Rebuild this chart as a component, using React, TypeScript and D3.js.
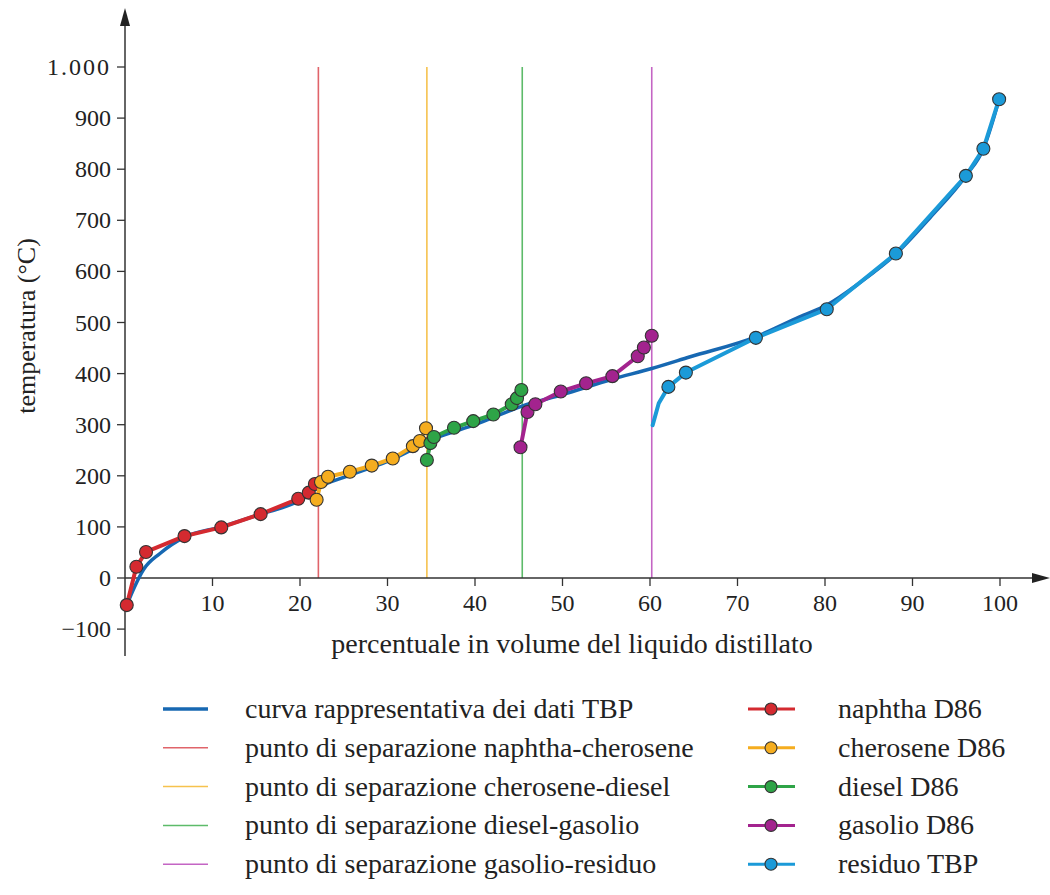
import React from 'react';
import * as d3 from 'd3';

type Pt = [number, number];

// curva TBP (linea blu scura, senza marcatori)
const tbpCurve: Pt[] = [
  [0.2, -53], [1.1, -17], [2.1, 16], [4.0, 48], [6.8, 80], [11, 100], [15.5, 125],
  [20, 152], [22.3, 179], [25, 197], [30, 228], [36, 277], [40, 300], [45.3, 336],
  [50, 359], [55.7, 389], [60.2, 410], [64.6, 433], [72.1, 472], [77.1, 511],
  [80.2, 534], [84, 578], [88.1, 634], [92, 705], [96.1, 787], [98.1, 840], [99.9, 937],
];

const naphtha: Pt[] = [
  [0.2, -53], [1.3, 22], [2.4, 51], [6.8, 82], [11.0, 99], [15.5, 125], [19.8, 155], [21.0, 167], [21.7, 184],
];
const cherosene: Pt[] = [
  [21.9, 153], [22.4, 188], [23.2, 198], [25.7, 208], [28.2, 220], [30.6, 234], [32.9, 258], [33.7, 268], [34.4, 293],
];
const diesel: Pt[] = [
  [34.5, 231], [34.9, 264], [35.3, 276], [37.6, 294], [39.8, 307], [42.1, 320], [44.2, 340], [44.8, 352], [45.3, 368],
];
const gasolio: Pt[] = [
  [45.2, 256], [46.0, 325], [46.9, 340], [49.8, 365], [52.7, 381], [55.7, 395], [58.6, 434], [59.3, 451], [60.2, 474],
];
// residuo: i primi due punti sono solo linea
const residuoLine: Pt[] = [
  [60.3, 299], [61.0, 342], [62.1, 374], [64.1, 402], [72.1, 470], [80.2, 526], [88.1, 635], [96.1, 787], [98.1, 840], [99.9, 937],
];
const residuoMarks: Pt[] = residuoLine.slice(2);

const cutPoints = [22.1, 34.5, 45.4, 60.2];
const cutColors = ['#e0646a', '#f6c24e', '#5dbb6a', '#c465c4'];

const xTicks = [10, 20, 30, 40, 50, 60, 70, 80, 90, 100];
const yTicks = [-100, 0, 100, 200, 300, 400, 500, 600, 700, 800, 900, 1000];

const series = [
  { name: 'naphtha D86', data: naphtha, marks: naphtha, color: '#d42a30' },
  { name: 'cherosene D86', data: cherosene, marks: cherosene, color: '#f5ad1f' },
  { name: 'diesel D86', data: diesel, marks: diesel, color: '#2ea447' },
  { name: 'gasolio D86', data: gasolio, marks: gasolio, color: '#a3238e' },
  { name: 'residuo TBP', data: residuoLine, marks: residuoMarks, color: '#1b9ad8' },
];

const leftLegend = [
  { name: 'curva rappresentativa dei dati TBP', color: '#1768b2', w: 3.5 },
  { name: 'punto di separazione naphtha-cherosene', color: cutColors[0], w: 1.5 },
  { name: 'punto di separazione cherosene-diesel', color: cutColors[1], w: 1.5 },
  { name: 'punto di separazione diesel-gasolio', color: cutColors[2], w: 1.5 },
  { name: 'punto di separazione gasolio-residuo', color: cutColors[3], w: 1.5 },
];

const FONT = '"Liberation Serif", "DejaVu Serif", serif';

export default function App() {
  const x = d3.scaleLinear().domain([0, 100]).range([125, 1000]);
  const y = d3.scaleLinear().domain([0, 1000]).range([578, 67]);
  const line = d3.line<Pt>().x(d => x(d[0])).y(d => y(d[1]));
  const smooth = d3.line<Pt>().x(d => x(d[0])).y(d => y(d[1])).curve(d3.curveMonotoneX);
  const fmt = (v: number) => (v < 0 ? '\u2212' + Math.abs(v) : v === 1000 ? '1.000' : String(v));
  const rowY = (i: number) => 709 + i * 38.8;

  return (
    <svg width={1050} height={895} style={{ position: 'absolute', left: 0, top: 0, background: '#fff' }} fontFamily={FONT}>
      {/* linee di separazione */}
      {cutPoints.map((c, i) => (
        <line key={'c' + i} x1={x(c)} x2={x(c)} y1={y(1000)} y2={y(0)} stroke={cutColors[i]} strokeWidth={1.6} />
      ))}

      {/* assi */}
      <line x1={125} x2={125} y1={656} y2={22} stroke="#333" strokeWidth={1.5} />
      <path d="M125,8 L120,26 L130,26 Z" fill="#222" />
      <line x1={125} x2={1036} y1={y(0)} y2={y(0)} stroke="#333" strokeWidth={1.5} />
      <path d={`M1050,${y(0)} L1032,${y(0) - 5} L1032,${y(0) + 5} Z`} fill="#222" />
      {xTicks.map(t => (
        <g key={'x' + t}>
          <line x1={x(t)} x2={x(t)} y1={y(0)} y2={y(0) + 8} stroke="#333" strokeWidth={1.3} />
          <text x={x(t)} y={611} textAnchor="middle" fontSize={24} fill="#222">{t}</text>
        </g>
      ))}
      {yTicks.map(t => (
        <g key={'y' + t}>
          <line x1={117} x2={125} y1={y(t)} y2={y(t)} stroke="#333" strokeWidth={1.3} />
          <text x={111} y={y(t) + 8} textAnchor="end" fontSize={24} fill="#222"
            letterSpacing={t === 1000 ? 2 : 0}>{fmt(t)}</text>
        </g>
      ))}
      <text x={572} y={653} textAnchor="middle" fontSize={28} fill="#222">percentuale in volume del liquido distillato</text>
      <text transform="translate(35,326) rotate(-90)" textAnchor="middle" fontSize={26} fill="#222">temperatura (°C)</text>

      {/* curva TBP */}
      <path d={smooth(tbpCurve) || ''} fill="none" stroke="#1768b2" strokeWidth={3.5} strokeLinejoin="round" />

      {/* serie con marcatori */}
      {series.map(s => (
        <g key={s.name}>
          <path d={line(s.data) || ''} fill="none" stroke={s.color} strokeWidth={4} strokeLinejoin="round" strokeLinecap="round" />
          {s.marks.map((p, i) => (
            <circle key={i} cx={x(p[0])} cy={y(p[1])} r={6.5} fill={s.color} stroke="#333" strokeWidth={1.1} />
          ))}
        </g>
      ))}

      {/* legenda */}
      {leftLegend.map((l, i) => (
        <g key={'ll' + i}>
          <line x1={163} x2={208} y1={rowY(i)} y2={rowY(i)} stroke={l.color} strokeWidth={l.w} />
          <text x={245} y={rowY(i) + 9} fontSize={28} fill="#222">{l.name}</text>
        </g>
      ))}
      {series.map((s, i) => (
        <g key={'rl' + i}>
          <line x1={748} x2={795} y1={rowY(i)} y2={rowY(i)} stroke={s.color} strokeWidth={3} />
          <circle cx={771} cy={rowY(i)} r={6} fill={s.color} stroke="#333" strokeWidth={1.1} />
          <text x={838} y={rowY(i) + 9} fontSize={28} fill="#222">{s.name}</text>
        </g>
      ))}
    </svg>
  );
}
